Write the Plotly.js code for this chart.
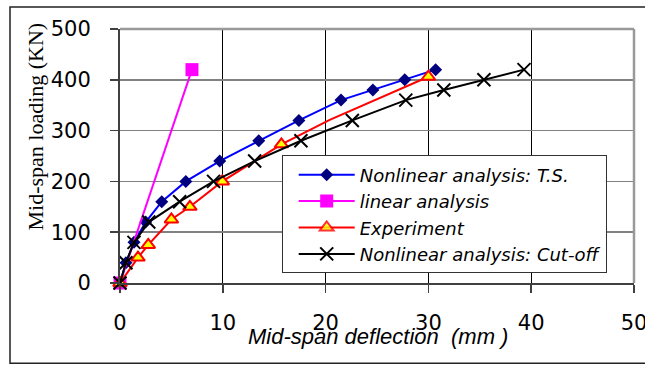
<!DOCTYPE html>
<html>
<head>
<meta charset="utf-8">
<script src="https://cdn.plot.ly/plotly-3.0.1.min.js"></script>
<style>html,body{margin:0;padding:0;background:#fff;}#chart{width:645px;height:365px;}</style>
</head>
<body>
<div id="chart"></div>
<script>
// Series names
var seriesNames = ["Nonlinear analysis: T.S.", "linear analysis", "Experiment", "Nonlinear analysis: Cut-off"];

// Nonlinear analysis: T.S.
var tsX = [0, 0.58, 1.36, 2.5, 4.06, 6.4, 9.7, 13.5, 17.4, 21.5, 24.6, 27.7, 30.7];
var tsY = [0, 40, 80, 120, 160, 200, 240, 280, 320, 360, 380, 400, 420];

// linear analysis
var linX = [0, 7.0];
var linY = [0, 420];

// Experiment (points 8 and 9 are unmarked vertices of the curve)
var expX = [0, 1.75, 2.75, 5.0, 6.8, 9.95, 15.7, 18.7, 20.4, 30.0];
var expY = [0, 50, 75, 125, 150, 200, 273, 304, 321, 406];
var expMarked = [true, true, true, true, true, true, true, false, false, true];

// Nonlinear analysis: Cut-off
var cutX = [0, 0.58, 1.36, 2.8, 5.8, 9.1, 13.1, 17.6, 22.6, 27.8, 31.5, 35.4, 39.3];
var cutY = [0, 40, 80, 120, 160, 200, 240, 280, 320, 360, 380, 400, 420];

// Axis ticks
var xTicks = [0, 10, 20, 30, 40, 50];
var yTicks = [0, 100, 200, 300, 400, 500];

// Titles
var xTitle = "Mid-span deflection\u00a0\u00a0(mm\u00a0)";
var yTitle = "Mid-span loading (KN)";

var traces = [
  {
    x: tsX, y: tsY, name: seriesNames[0], type: 'scatter', mode: 'lines+markers',
    line: {color: '#0000FF', width: 2},
    marker: {symbol: 'diamond', size: 10, color: '#000080', line: {width: 0}},
    cliponaxis: false
  },
  {
    x: linX, y: linY, name: seriesNames[1], type: 'scatter', mode: 'lines+markers',
    line: {color: '#FF00FF', width: 2},
    marker: {symbol: 'square', size: 13, color: '#FF00FF', line: {width: 0}},
    cliponaxis: false
  },
  {
    x: expX, y: expY, name: seriesNames[2], type: 'scatter', mode: 'lines+markers',
    line: {color: '#FF0000', width: 2},
    marker: {symbol: 'triangle-up', size: 12, color: '#FFFF00',
             opacity: expMarked.map(function(m){ return m ? 1 : 0; }),
             line: {color: '#FF0000', width: 2}},
    cliponaxis: false
  },
  {
    x: cutX, y: cutY, name: seriesNames[3], type: 'scatter', mode: 'lines+markers',
    line: {color: '#000000', width: 2},
    marker: {symbol: 'x-thin', size: 13, color: '#000000', line: {color: '#000000', width: 2}},
    cliponaxis: false
  }
];

var layout = {
  width: 645, height: 365,
  margin: {l: 120, r: 11, t: 29, b: 82},
  paper_bgcolor: '#ffffff', plot_bgcolor: '#ffffff',
  showlegend: true,
  legend: {
    x: 0.3146, y: 0.502, xanchor: 'left', yanchor: 'top',
    bgcolor: '#ffffff', bordercolor: '#333333', borderwidth: 1,
    font: {family: 'DejaVu Sans, Verdana, sans-serif', size: 18, color: '#000000', style: 'italic'},
    itemwidth: 56, indentation: 11, traceorder: 'normal', entrywidth: 270
  },
  xaxis: {
    range: [0, 50], tickvals: xTicks, ticktext: xTicks.map(String),
    showgrid: true, gridcolor: '#000000', gridwidth: 1,
    zeroline: false, showline: true, linecolor: '#404040', linewidth: 2,
    ticks: 'outside', ticklen: 8, tickwidth: 1.5, tickcolor: '#404040',
    ticklabelstandoff: 12, ticklabeloverflow: 'allow',
    tickfont: {family: 'DejaVu Sans, Verdana, sans-serif', size: 21, color: '#000000'},
    fixedrange: true
  },
  yaxis: {
    range: [0, 500], tickvals: yTicks, ticktext: yTicks.map(String),
    showgrid: true, gridcolor: '#808080', gridwidth: 1.5,
    zeroline: false, showline: true, linecolor: '#404040', linewidth: 2,
    ticks: 'outside', ticklen: 8, tickwidth: 1.5, tickcolor: '#404040',
    ticklabelstandoff: 15,
    tickfont: {family: 'DejaVu Sans, Verdana, sans-serif', size: 21, color: '#000000'},
    fixedrange: true
  },
  shapes: [
    // plot area border (top & right)
    {type: 'line', xref: 'paper', yref: 'paper', x0: 0, x1: 1, y0: 1, y1: 1,
     line: {color: '#999999', width: 2.5}, layer: 'above'},
    {type: 'line', xref: 'paper', yref: 'paper', x0: 1, x1: 1, y0: 0, y1: 1,
     line: {color: '#999999', width: 2.5}, layer: 'above'},
    // chart border
    {type: 'rect', xref: 'paper', yref: 'paper', x0: -0.214, x1: 1.04, y0: -0.3155, y1: 1.0866,
     line: {color: '#222222', width: 1.5}, fillcolor: 'rgba(0,0,0,0)', layer: 'below'}
  ],
  annotations: [
    {text: xTitle, xref: 'paper', yref: 'paper', x: 0.501, y: -0.212, xanchor: 'center', yanchor: 'middle',
     showarrow: false, font: {family: 'Liberation Sans, Arial, sans-serif', size: 22, color: '#000000', style: 'italic'}},
    {text: yTitle, xref: 'paper', yref: 'paper', x: -0.1634, y: 0.616, xanchor: 'center', yanchor: 'middle',
     textangle: -90, showarrow: false,
     font: {family: 'Liberation Serif, Times New Roman, serif', size: 22, color: '#000000'}}
  ]
};

Plotly.newPlot('chart', traces, layout, {displayModeBar: false, staticPlot: true});
</script>
</body>
</html>
